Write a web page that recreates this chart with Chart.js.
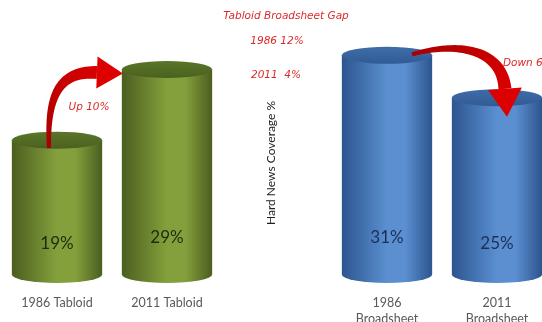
<!DOCTYPE html>
<html>
<head>
<meta charset="utf-8">
<script src="https://cdn.jsdelivr.net/npm/chart.js@4.4.0/dist/chart.umd.min.js"></script>
<style>
html, body { margin: 0; padding: 0; background: #fff; overflow: hidden; }
#wrap { width: 552px; height: 339px; position: relative; }
</style>
</head>
<body>
<div id="wrap"><canvas id="c"></canvas></div>
<script>
const categories = ['1986 Tabloid', '2011 Tabloid', '', ['1986', 'Broadsheet'], ['2011', 'Broadsheet']];
const coverage = [19, 29, null, 31, 25];
const groups = ['tabloid', 'tabloid', null, 'broadsheet', 'broadsheet'];
const axisTitle = 'Hard News Coverage %';
const gapTitle = 'Tabloid Broadsheet Gap';

const palette = {
  tabloid: { dark: '#4b5e1f', mid: '#84a03c', top: '#5b7629', topEdge: '#4a611f', text: '#1f2b0d' },
  broadsheet: { dark: '#2c558f', mid: '#5b8fd0', top: '#3f6ca9', topEdge: '#315b94', text: '#1a3058' }
};
const red = '#dc2a2a';

// tapered ribbon arrow along a cubic bezier
function drawArrow(ctx, p0, c1, c2, p3, w0, w1, headLen, headW) {
  let dx = p3.x - c2.x, dy = p3.y - c2.y;
  const d = Math.hypot(dx, dy); dx /= d; dy /= d;
  const end = { x: p3.x - dx * headLen, y: p3.y - dy * headLen };
  const q2 = { x: c2.x - dx * headLen * 0.5, y: c2.y - dy * headLen * 0.5 };
  const pt = t => {
    const u = 1 - t;
    return {
      x: u*u*u*p0.x + 3*u*u*t*c1.x + 3*u*t*t*q2.x + t*t*t*end.x,
      y: u*u*u*p0.y + 3*u*u*t*c1.y + 3*u*t*t*q2.y + t*t*t*end.y
    };
  };
  const n = 40, left = [], right = [];
  for (let k = 0; k <= n; k++) {
    const t = k / n;
    const a = pt(Math.max(0, t - 0.01)), b = pt(Math.min(1, t + 0.01));
    let tx = b.x - a.x, ty = b.y - a.y;
    const tl = Math.hypot(tx, ty) || 1; tx /= tl; ty /= tl;
    const w = (w0 + (w1 - w0) * t) / 2;
    const c = pt(t);
    left.push({ x: c.x - ty * w, y: c.y + tx * w });
    right.push({ x: c.x + ty * w, y: c.y - tx * w });
  }
  ctx.save();
  const g = ctx.createLinearGradient(p0.x, p0.y, p3.x, p3.y);
  g.addColorStop(0, '#a80000');
  g.addColorStop(1, '#e00000');
  ctx.fillStyle = g;
  ctx.beginPath();
  left.forEach((p, k) => k ? ctx.lineTo(p.x, p.y) : ctx.moveTo(p.x, p.y));
  right.reverse().forEach(p => ctx.lineTo(p.x, p.y));
  ctx.closePath();
  ctx.fill();
  ctx.fillStyle = '#dd0000';
  ctx.beginPath();
  ctx.moveTo(p3.x, p3.y);
  ctx.lineTo(end.x - dy * headW, end.y + dx * headW);
  ctx.lineTo(end.x + dy * headW, end.y - dx * headW);
  ctx.closePath();
  ctx.fill();
  ctx.restore();
}

const cylinders = {
  id: 'cylinders',
  afterDatasetsDraw(chart) {
    const ctx = chart.ctx;
    const bars = chart.getDatasetMeta(0).data;
    const ry = 8.5;
    bars.forEach((bar, i) => {
      if (coverage[i] == null) return;
      const p = palette[groups[i]];
      const { x, y, base, width } = bar.getProps(['x', 'y', 'base', 'width'], true);
      const l = x - width / 2, r = x + width / 2;
      const g = ctx.createLinearGradient(l, 0, r, 0);
      g.addColorStop(0, p.dark);
      g.addColorStop(0.5, p.mid);
      g.addColorStop(0.7, p.mid);
      g.addColorStop(1, p.dark);
      ctx.save();
      ctx.fillStyle = g;
      ctx.beginPath();
      ctx.moveTo(l, y);
      ctx.lineTo(l, base);
      ctx.ellipse(x, base, width / 2, ry, 0, Math.PI, 0, true);
      ctx.lineTo(r, y);
      ctx.closePath();
      ctx.fill();
      const tg = ctx.createLinearGradient(0, y - ry, 0, y + ry);
      tg.addColorStop(0, p.top);
      tg.addColorStop(1, p.topEdge);
      ctx.fillStyle = tg;
      ctx.beginPath();
      ctx.ellipse(x, y, width / 2, ry, 0, 0, Math.PI * 2);
      ctx.fill();
      ctx.fillStyle = p.text;
      ctx.font = '17px Lato, "Open Sans", sans-serif';
      ctx.textAlign = 'center';
      ctx.textBaseline = 'middle';
      ctx.fillText(coverage[i] + '%', x, base - 31 - (i === 1 || i === 3 ? 6 : 0));
      ctx.restore();
    });

    const b0 = bars[0], b1 = bars[1], mid = bars[2], b3 = bars[3], b4 = bars[4];
    drawArrow(ctx,
      { x: b0.x - 8, y: b0.y + 8 },
      { x: b0.x - 10, y: b0.y - 45 },
      { x: b0.x + 15, y: b1.y + 2 },
      { x: b1.x - b1.width / 2 + 1, y: b1.y + 4 },
      4, 13, 26, 16);
    drawArrow(ctx,
      { x: b3.x + 25, y: b3.y - 1 },
      { x: b3.x + 70, y: b3.y - 14 },
      { x: b4.x + 6, y: b4.y - 35 },
      { x: b4.x + 10, y: b4.y + 19 },
      4, 13, 28, 17);

    ctx.save();
    ctx.fillStyle = red;
    ctx.font = 'italic 10.5px "DejaVu Sans", sans-serif';
    ctx.textBaseline = 'middle';
    ctx.textAlign = 'center';
    ctx.fillText(gapTitle, mid.x + 9, 16);
    ctx.fillText('1986 ' + (coverage[3] - coverage[0]) + '%', mid.x, 41);
    ctx.fillText('2011  ' + Math.abs(coverage[4] - coverage[1]) + '%', mid.x - 1, 75);
    ctx.fillText('Up ' + (coverage[1] - coverage[0]) + '%', b0.x + 32, b1.y + 38);
    ctx.textAlign = 'left';
    ctx.fillText('Down ' + (coverage[3] - coverage[4]) + '%', b4.x + 6, b3.y + 8);
    ctx.restore();

    ctx.save();
    ctx.translate(mid.x - 6, 163);
    ctx.rotate(-Math.PI / 2);
    ctx.fillStyle = '#222';
    ctx.font = '12px Lato, "Open Sans", sans-serif';
    ctx.textAlign = 'center';
    ctx.textBaseline = 'middle';
    ctx.fillText(axisTitle, 0, 0);
    ctx.restore();
  }
};

new Chart(document.getElementById('c'), {
  type: 'bar',
  data: {
    labels: categories,
    datasets: [{
      data: coverage,
      backgroundColor: groups.map(g => g ? palette[g].mid : 'transparent'),
      borderWidth: 0,
      categoryPercentage: 1,
      barPercentage: 0.82
    }]
  },
  options: {
    responsive: true,
    maintainAspectRatio: false,
    animation: false,
    layout: { padding: { top: 20, left: 2, right: 0, bottom: 0 } },
    plugins: { legend: { display: false }, tooltip: { enabled: false } },
    scales: {
      x: {
        grid: { display: false },
        border: { display: false },
        ticks: {
          color: '#595959',
          font: { family: 'Lato, "Open Sans", sans-serif', size: 12.5, lineHeight: 1.3 },
          padding: 12,
          maxRotation: 0,
          autoSkip: false
        }
      },
      y: { display: false, min: 0, max: 36 }
    }
  },
  plugins: [cylinders]
});
</script>
</body>
</html>
